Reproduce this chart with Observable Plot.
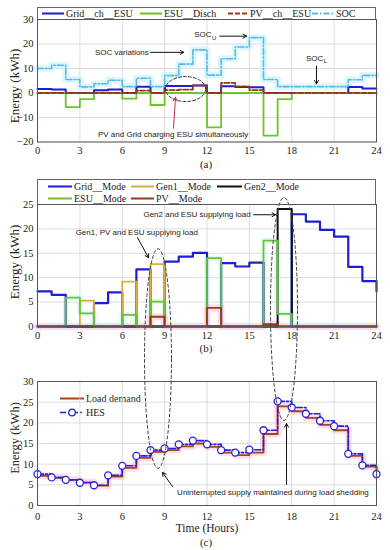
<!DOCTYPE html>
<html>
<head>
<meta charset="utf-8">
<script src="https://cdn.jsdelivr.net/npm/d3@7"></script>
<script src="https://cdn.jsdelivr.net/npm/@observablehq/plot@0.6"></script>
<style>
  body { margin: 0; background: #fff; }
  #root { position: relative; width: 390px; height: 550px; overflow: hidden; font-family: "Liberation Serif", serif; color: #222; }
  .panel { position: absolute; left: 0; }
  .panel svg { overflow: visible; }
  .txt { position: absolute; white-space: nowrap; transform: translate(-50%, -50%); }
  .ylab { position: absolute; white-space: nowrap; transform: translate(-50%, -50%) rotate(-90deg); }
  .legbox { position: absolute; border: 1px solid #666; background: #fff; box-sizing: border-box; }
  .legitem { position: absolute; display: flex; align-items: center; white-space: nowrap; font-size: 10px; transform: translateY(-50%); }
</style>
</head>
<body>
<div id="root"></div>
<script>
// ---------------- data ----------------
const xTicks = [0, 3, 6, 9, 12, 15, 18, 21, 24];
const yTicksA = [-20, -10, 0, 10, 20, 30];
const yTicksB = [0, 5, 10, 15, 20, 25];
const yTicksC = [0, 5, 10, 15, 20, 25, 30];

// (a) hourly values, hour 0..23, last entry = value at hour 24
const gridChESU = [1.6, 1.4, 0, 0, 1.1, 1.4, 0, 2.6, 0, 2.9, 2.9, 3.1, 0, 2.8, 2.5, 2.3, 0, 0, 0, 0, 0, 0, 2.4, 1.8, 1.8];
const esuDisch  = [0, 0, -5.8, -2.5, 0, 0, -2.3, 0, -4.9, 0, 0, 0, -14.0, 0, 0, 0, -17.4, -2.5, 0, 0, 0, 0, 0, 0, 0];
const pvChESU   = [0, 0, 0, 0, 0, 0, 0, 1.0, 0, 1.2, 1.4, 3.1, 0, 4.1, 2.7, 1.2, 0, 0, 0, 0, 0, 0, 0, 0, 0];
const soc       = [10.0, 11.3, 5.5, 2.5, 3.8, 5.2, 2.6, 6.0, 2.6, 7.1, 11.8, 17.6, 7.3, 14.0, 18.8, 22.6, 5.5, 2.6, 2.6, 2.6, 2.6, 2.6, 5.4, 7.2, 7.2];

// (b)
const gridMode = [7.2, 6.5, 0, 0, 4.8, 7.0, 0, 11.7, 0, 13.3, 14.3, 15.1, 0, 13.0, 12.3, 13.1, 0, 0, 23.0, 21.5, 19.8, 18.4, 12.2, 9.3, 7.2];
const gen1Mode = [0, 0, 0, 5.3, 0, 0, 9.2, 0, 12.8, 0, 0, 0, 0, 0, 0, 0, 0, 0, 0, 0, 0, 0, 0, 0, 0];
const gen2Mode = [0, 0, 0, 0, 0, 0, 0, 0, 0, 0, 0, 0, 0, 0, 0, 0, 0, 24.1, 0, 0, 0, 0, 0, 0, 0];
const esuMode  = [0, 0, 5.9, 2.7, 0, 0, 2.4, 0, 5.1, 0, 0, 0, 14.0, 0, 0, 0, 17.6, 2.6, 0, 0, 0, 0, 0, 0, 0];
const pvMode   = [0, 0, 0, 0, 0, 0, 0, 0, 2.0, 0, 0, 0, 3.8, 0, 0, 0, 0.5, 0, 0, 0, 0, 0, 0, 0, 0];

// (c)
const loadDemand = [7.2, 6.7, 6.2, 5.6, 4.8, 7.0, 9.1, 11.5, 13.0, 13.4, 14.3, 15.0, 14.2, 12.8, 12.2, 12.8, 17.3, 24.0, 22.8, 21.2, 19.5, 18.2, 12.0, 9.4, 7.2];
const hes        = [7.6, 6.8, 6.2, 5.5, 4.9, 7.3, 9.6, 12.0, 13.4, 13.8, 14.8, 15.7, 14.8, 13.4, 12.8, 13.5, 18.2, 25.2, 23.7, 22.2, 20.5, 19.2, 12.5, 9.7, 7.6];

// annotations (data coordinates)
const annA = [
  {x: 7.88, y: 16.6, text: "SOC variations", anchor: "end", size: 8},
  {x: 11.1, y: 23.9, text: "SOC", anchor: "start", size: 8},
  {x: 12.36, y: 22.5, text: "U", anchor: "start", size: 6},
  {x: 19.0, y: 14.3, text: "SOC", anchor: "start", size: 8},
  {x: 20.26, y: 12.9, text: "L", anchor: "start", size: 6},
  {x: 9.6, y: -16.9, text: "PV and Grid charging ESU simultaneously", anchor: "middle", size: 8}
];
const arrowsA = [
  {x1: 8.0, y1: 16.6, x2: 10.35, y2: 16.6, c: "#111"},
  {x1: 12.9, y1: 23.2, x2: 14.8, y2: 23.2, c: "#111"},
  {x1: 19.75, y1: 11.0, x2: 19.75, y2: 3.7, c: "#111"},
  {x1: 9.63, y1: -14.4, x2: 9.77, y2: -1.8, c: "#b8304e"}
];
const annB = [
  {x: 7.5, y: 22.9, text: "Gen2 and ESU supplying load", anchor: "start", size: 8},
  {x: 2.7, y: 19.3, text: "Gen1, PV and ESU supplying load", anchor: "start", size: 8}
];
const arrowsB = [
  {x1: 15.3, y1: 22.9, x2: 16.85, y2: 22.9, c: "#111"},
  {x1: 7.08, y1: 18.2, x2: 7.86, y2: 14.1, c: "#111"}
];
const annC = [
  {x: 16.67, y: 3.1, text: "Uninterrupted supply maintained during load shedding", anchor: "middle", size: 8}
];
const arrowsC = [
  {x1: 9.56, y1: 4.6, x2: 8.85, y2: 8.0, c: "#111"},
  {x1: 17.63, y1: 5.1, x2: 17.63, y2: 19.8, c: "#111"}
];
// dashed ellipses: [cx (h), cy, rx (h), ry]
const ellipseA = [10.48, 1.6, 1.42, 5.1];
const ellipsesB = [[8.53, -6.56, 0.956, 22.5], [17.45, 3.6, 0.956, 22.85]];

// ---------------- helpers ----------------
const stairs = (vals) => vals.map((v, i) => ({hour: i, value: v}));
const ellipse = ([cx, cy, rx, ry]) => d3.range(0, 73).map(k => {
  const t = k / 72 * 2 * Math.PI;
  return {x: cx + rx * Math.cos(t), y: cy + ry * Math.sin(t)};
});
const gridStyle = {stroke: "#d4d4d4", strokeOpacity: 1, strokeWidth: 0.8};
const baseStyle = {fontFamily: "Liberation Serif", fontSize: "10.5px", background: "transparent", overflow: "visible", color: "#222"};

function annMarks(ann, arrows) {
  return [
    Plot.arrow(arrows, {x1: "x1", y1: "y1", x2: "x2", y2: "y2", stroke: d => d.c, strokeWidth: 1, headLength: 6}),
    ...ann.map(a => Plot.text([a], {x: "x", y: "y", text: "text", textAnchor: a.anchor, fontFamily: "Liberation Sans", fontSize: a.size, fill: "#222"}))
  ];
}
function stepLine(vals, opts) {
  return Plot.line(stairs(vals), {x: "hour", y: "value", curve: "step-after", ...opts});
}

const root = document.getElementById("root");
function place(el, top, z) {
  const d = document.createElement("div");
  d.className = "panel"; d.style.top = top + "px"; d.style.zIndex = z;
  d.appendChild(el); root.appendChild(d);
}
function addText(text, x, y, size, cls = "txt") {
  const d = document.createElement("div");
  d.className = cls; d.textContent = text;
  d.style.left = x + "px"; d.style.top = y + "px"; d.style.fontSize = size + "px";
  root.appendChild(d);
}
function legendItem(label, x, y, sample) {
  const d = document.createElement("div");
  d.className = "legitem"; d.style.left = x + "px"; d.style.top = y + "px";
  d.innerHTML = `<svg width="${sample.w}" height="10" style="margin-right:2px">` +
    `<line x1="0" x2="${sample.w}" y1="5" y2="5" stroke="${sample.c}" stroke-width="${sample.sw}" ${sample.dash ? `stroke-dasharray="${sample.dash}"` : ""}/>` +
    (sample.dot ? `<circle cx="${sample.w / 2}" cy="5" r="3.3" fill="white" stroke="${sample.c}" stroke-width="1.3"/>` : "") +
    `</svg><span>${label}</span>`;
  root.appendChild(d);
}
function legendBox(x, y, w, h) {
  const d = document.createElement("div");
  d.className = "legbox";
  Object.assign(d.style, {left: x + "px", top: y + "px", width: w + "px", height: h + "px", zIndex: 0});
  root.appendChild(d);
}

// colours
const cBlue = "#1f1fd2", cGreen = "#6cc427", cBrown = "#9a3a14", cSky = "#58b8e6", cGold = "#d6b040";

// ---------------- panel (a) ----------------
const plotA = Plot.plot({
  width: 390, height: 170,
  marginTop: 19, marginBottom: 28.5, marginLeft: 37, marginRight: 14,
  style: baseStyle,
  x: {domain: [0, 24]},
  y: {domain: [-20, 30]},
  marks: [
    Plot.gridX({ticks: xTicks, ...gridStyle}),
    Plot.gridY({ticks: yTicksA, ...gridStyle}),
    stepLine(soc, {stroke: "#c4f2fb", strokeWidth: 7, strokeOpacity: 0.6}),
    stepLine(gridChESU, {stroke: cBlue, strokeWidth: 2}),
    stepLine(esuDisch, {stroke: cGreen, strokeWidth: 1.8}),
    stepLine(pvChESU, {stroke: cBrown, strokeWidth: 1.8, strokeDasharray: "5,2"}),
    stepLine(soc, {stroke: cSky, strokeWidth: 1.6, strokeDasharray: "6,2,1.5,2"}),
    Plot.line(ellipse(ellipseA), {x: "x", y: "y", stroke: "#333", strokeWidth: 1, strokeDasharray: "3,2"}),
    ...annMarks(annA, arrowsA),
    Plot.frame({stroke: "#555"}),
    Plot.axisX({ticks: xTicks, tickSize: 0, tickPadding: 5, label: null}),
    Plot.axisY({ticks: yTicksA, tickSize: 0, tickPadding: 4, label: null})
  ]
});
place(plotA, 0, 2);
legendBox(37, 7, 339, 13);
legendItem("Grid__ch__ESU", 42, 13, {w: 22, c: cBlue, sw: 2});
legendItem("ESU__Disch", 140, 13, {w: 22, c: cGreen, sw: 2});
legendItem("PV__ch__ESU", 228, 13, {w: 20, c: cBrown, sw: 2, dash: "5,2"});
legendItem("SOC", 312, 13, {w: 22, c: cSky, sw: 2, dash: "6,2,1.5,2"});
addText("Energy (kWh)", 15, 86, 13, "ylab");
addText("(a)", 206, 164, 11);

// ---------------- panel (b) ----------------
const plotB = Plot.plot({
  width: 390, height: 180,
  marginTop: 29, marginBottom: 29, marginLeft: 37, marginRight: 14,
  style: baseStyle,
  x: {domain: [0, 24]},
  y: {domain: [0, 25]},
  marks: [
    Plot.gridX({ticks: xTicks, ...gridStyle}),
    Plot.gridY({ticks: yTicksB, ...gridStyle}),
    stepLine(esuMode, {stroke: "#c8f4fa", strokeWidth: 6, strokeOpacity: 0.5}),
    stepLine(pvMode, {stroke: "#ffc8dc", strokeWidth: 7, strokeOpacity: 0.6}),
    stepLine(gridMode, {stroke: cBlue, strokeWidth: 2.2}),
    stepLine(gen1Mode, {stroke: cGold, strokeWidth: 1.8}),
    stepLine(gen2Mode, {stroke: "#111", strokeWidth: 2}),
    stepLine(esuMode, {stroke: cGreen, strokeWidth: 1.8}),
    stepLine(pvMode, {stroke: cBrown, strokeWidth: 1.8}),
    ...ellipsesB.map(e => Plot.line(ellipse(e), {x: "x", y: "y", stroke: "#444", strokeWidth: 1, strokeDasharray: "3,2.5"})),
    ...annMarks(annB, arrowsB),
    Plot.frame({stroke: "#555"}),
    Plot.axisX({ticks: xTicks, tickSize: 0, tickPadding: 5, label: null}),
    Plot.axisY({ticks: yTicksB, tickSize: 0, tickPadding: 4, label: null})
  ]
});
place(plotB, 175, 3);
legendBox(37, 179, 339, 26);
legendItem("Grid__Mode", 48, 186, {w: 24, c: cBlue, sw: 2});
legendItem("Gen1__Mode", 131, 186, {w: 23, c: cGold, sw: 2});
legendItem("Gen2__Mode", 217, 186, {w: 25, c: "#111", sw: 2});
legendItem("ESU__Mode", 48, 198, {w: 24, c: cGreen, sw: 2});
legendItem("PV__Mode", 131, 198, {w: 23, c: cBrown, sw: 2});
addText("Energy (kWh)", 15, 262, 13, "ylab");
addText("(b)", 206, 348, 11);

// ---------------- panel (c) ----------------
const plotC = Plot.plot({
  width: 390, height: 190,
  marginTop: 21, marginBottom: 45, marginLeft: 37, marginRight: 14,
  style: baseStyle,
  x: {domain: [0, 24]},
  y: {domain: [0, 30]},
  marks: [
    Plot.gridX({ticks: xTicks, ...gridStyle}),
    Plot.gridY({ticks: yTicksC, ...gridStyle}),
    stepLine(loadDemand, {stroke: "#ffc4da", strokeWidth: 7, strokeOpacity: 0.6}),
    stepLine(loadDemand, {stroke: "#a8441a", strokeWidth: 1.8}),
    stepLine(hes, {stroke: "#2222dd", strokeWidth: 1.6, strokeDasharray: "6,2,2,2"}),
    Plot.dot(stairs(hes), {x: "hour", y: "value", r: 3.5, stroke: "#2222dd", fill: "white", strokeWidth: 1.3}),
    ...annMarks(annC, arrowsC),
    Plot.frame({stroke: "#555"}),
    Plot.axisX({ticks: xTicks, tickSize: 0, tickPadding: 7, label: null}),
    Plot.axisY({ticks: yTicksC, tickSize: 0, tickPadding: 4, label: null})
  ]
});
place(plotC, 360, 1);
legendItem("Load demand", 60, 398, {w: 24, c: "#a8441a", sw: 2});
legendItem("HES", 60, 412, {w: 24, c: "#2222dd", sw: 1.6, dash: "6,2,2,2", dot: true});
addText("Energy (kWh)", 15, 438, 12.5, "ylab");
addText("Time (Hours)", 207, 528, 11.5);
addText("(c)", 206, 542, 11);
</script>
</body>
</html>
